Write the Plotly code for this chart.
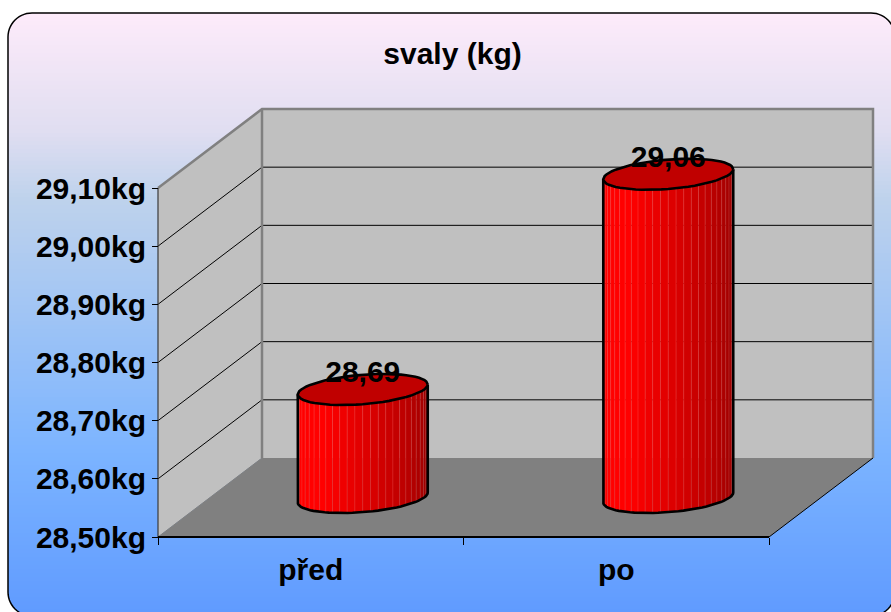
import math
import plotly.graph_objects as go

# ---- chart data ----
categories = ["před", "po"]
values = [28.69, 29.06]
value_labels = ["28,69", "29,06"]
y_ticks = [28.5, 28.6, 28.7, 28.8, 28.9, 29.0, 29.1]
y_tick_labels = ["28,50kg", "28,60kg", "28,70kg", "28,80kg", "28,90kg", "29,00kg", "29,10kg"]
title_text = "svaly (kg)"

W, H = 891, 612
FONT = "Liberation Sans, Arial, sans-serif"
FS = 30

# pixel scale of the axes (front plane)
PX_X = 305.5      # pixels per category
PX_Y = 581.67     # pixels per kg
L_PX, B_PX = 158, 537
DEPTH_X, DEPTH_Y = 104 / PX_X, 79 / PX_Y
y_min, y_max = y_ticks[0], y_ticks[-1]
n_cat = len(categories)
x_range = [-L_PX / PX_X, (W - L_PX) / PX_X]
y_range = [y_min - (H - B_PX) / PX_Y, y_min + B_PX / PX_Y]


def poly(xs, ys, fill=None, line=None, width=0, close=True):
    return go.Scatter(
        x=xs, y=ys, mode="lines" if width else "none",
        fill="toself" if fill else None, fillcolor=fill,
        line=dict(color=line or "rgba(0,0,0,0)", width=width),
        hoverinfo="skip", showlegend=False)


fig = go.Figure()

# side wall, back wall, floor
fig.add_trace(poly([0, DEPTH_X, DEPTH_X, 0, 0],
                   [y_min, y_min + DEPTH_Y, y_max + DEPTH_Y, y_max, y_min], "#C0C0C0"))
fig.add_trace(poly([DEPTH_X, n_cat + DEPTH_X, n_cat + DEPTH_X, DEPTH_X, DEPTH_X],
                   [y_min + DEPTH_Y, y_min + DEPTH_Y, y_max + DEPTH_Y, y_max + DEPTH_Y, y_min + DEPTH_Y],
                   "#C0C0C0"))
fig.add_trace(poly([0, n_cat, n_cat + DEPTH_X, DEPTH_X, 0],
                   [y_min, y_min, y_min + DEPTH_Y, y_min + DEPTH_Y, y_min], "#808080"))

# grid lines
for v in y_ticks[1:-1]:
    fig.add_trace(poly([0, DEPTH_X, n_cat + DEPTH_X], [v, v + DEPTH_Y, v + DEPTH_Y],
                       line="#000000", width=1))

# wall edges
GRAY = "#808080"
fig.add_trace(poly([0, DEPTH_X, n_cat + DEPTH_X, n_cat + DEPTH_X],
                   [y_max, y_max + DEPTH_Y, y_max + DEPTH_Y, y_min + DEPTH_Y],
                   line=GRAY, width=2.5))
fig.add_trace(poly([DEPTH_X, DEPTH_X], [y_max + DEPTH_Y, y_min + DEPTH_Y], line=GRAY, width=2.5))
fig.add_trace(poly([0, DEPTH_X], [y_min, y_min + DEPTH_Y], line=GRAY, width=1))
fig.add_trace(poly([0, 0], [y_max, y_min], line="#3a3a3a", width=1.2))
fig.add_trace(poly([0, n_cat], [y_min, y_min], line="#000000", width=2))
fig.add_trace(poly([n_cat, n_cat + DEPTH_X], [y_min, y_min + DEPTH_Y], line="#000000", width=1))

# cylinders
RX, RY, SHEAR = 65.0, 14.7, 5.0
N_STRIP = 26
BASE_UP, TOP_UP = 39.5, 37.0
STROKE = 2.6


def shade(t):
    # t = 0 (left) .. 1 (right)
    if t < 0.3:
        return (255, 0, 0)
    return (round(255 - (t - 0.3) / 0.7 * 110), 0, 0)


def arc(cx, v, up, t0, t1, n=6):
    xs, ys = [], []
    for i in range(n + 1):
        t = t0 + (t1 - t0) * i / n
        xs.append(cx + (RX * math.cos(t)) / PX_X)
        ys.append(v + (up + SHEAR * math.cos(t) + RY * math.sin(t)) / PX_Y)
    return xs, ys


for i, v in enumerate(values):
    cx = i + 0.5 + DEPTH_X / 2
    # body strips (front half of the cylinder, left to right)
    for s in range(N_STRIP):
        t0 = math.pi + math.pi * s / N_STRIP
        t1 = math.pi + math.pi * (s + 1) / N_STRIP
        bx, by = arc(cx, y_min, BASE_UP, t0, t1, 3)
        tx, ty = arc(cx, v, TOP_UP, t1, t0, 3)
        r, g, b = shade((s + 0.5) / N_STRIP)
        edge = f"rgba({min(255, r + 50)},90,90,0.4)"
        fig.add_trace(poly(bx + tx + bx[:1], by + ty + by[:1],
                           f"rgb({r},{g},{b})", edge, 0.6))
    # silhouette
    bx, by = arc(cx, y_min, BASE_UP, math.pi, 2 * math.pi, 40)
    lx = [cx - RX / PX_X] + bx + [cx + RX / PX_X]
    ly = [v + (TOP_UP - SHEAR) / PX_Y] + by + [v + (TOP_UP + SHEAR) / PX_Y]
    fig.add_trace(poly(lx, ly, line="#000000", width=STROKE))
    # top disc
    ex, ey = arc(cx, v, TOP_UP, 0, 2 * math.pi, 60)
    fig.add_trace(poly(ex, ey, "#C00000", "#000000", STROKE))

# value labels
fig.add_trace(go.Scatter(
    x=[i + 0.5 + DEPTH_X / 2 for i in range(n_cat)],
    y=[v + (TOP_UP + 14.5) / PX_Y for v in values],
    text=value_labels, mode="text", textposition="middle center",
    textfont=dict(family=FONT, size=FS, color="#000000", weight="bold"),
    hoverinfo="skip", showlegend=False))

# ---- card background (paper coordinates) ----
shapes = []
stops = [(13, (254, 235, 250)), (130, (224, 222, 241)), (200, (190, 210, 236)),
         (450, (124, 180, 255)), (612, (96, 155, 255))]


def grad(py):
    for (a, ca), (b, cb) in zip(stops, stops[1:]):
        if py <= b:
            f = max(0, (py - a) / (b - a))
            return tuple(round(ca[k] + (cb[k] - ca[k]) * f) for k in range(3))
    return stops[-1][1]


def fx(px):
    return px / W


def fy(py):
    return 1 - py / H


for py in range(13, 612, 4):
    c = grad(py + 2)
    shapes.append(dict(type="rect", xref="paper", yref="paper", layer="below",
                       x0=0, x1=1, y0=fy(py + 4.5), y1=fy(py),
                       fillcolor=f"rgb{c}", line=dict(width=0)))

# card outline and white corners
X0, Y0, X1, Y1, R = 8, 13, 895, 616, 24


def P(px, py):
    return f"{fx(px):.5f},{fy(py):.5f}"


def arc_pts(cxp, cyp, a0, a1, n=14):
    pts = []
    for i in range(n + 1):
        a = math.radians(a0 + (a1 - a0) * i / n)
        pts.append((cxp + R * math.cos(a), cyp + R * math.sin(a)))
    return pts


outline = (arc_pts(X0 + R, Y0 + R, 180, 270) + arc_pts(X1 - R, Y0 + R, 270, 360)
           + arc_pts(X1 - R, Y1 - R, 0, 90) + arc_pts(X0 + R, Y1 - R, 90, 180))
card = "M" + " L".join(P(a, b) for a, b in outline) + " Z"
mask = f"M{P(-5, -5)} L{P(W + 8, -5)} L{P(W + 8, H + 8)} L{P(-5, H + 8)} Z " + card
shapes.append(dict(type="path", xref="paper", yref="paper", layer="below", path=mask,
                   fillcolor="#FFFFFF", line=dict(width=0)))
shapes.append(dict(type="path", xref="paper", yref="paper", layer="below", path=card,
                   fillcolor="rgba(0,0,0,0)", line=dict(color="#000000", width=1.5)))

tick_font = dict(family=FONT, size=FS, color="#000000", weight="bold")
fig.update_layout(
    width=W, height=H, autosize=False,
    margin=dict(l=0, r=0, t=0, b=0),
    paper_bgcolor="#FFFFFF", plot_bgcolor="rgba(0,0,0,0)",
    showlegend=False, shapes=shapes, hovermode=False,
    title=dict(text=title_text, x=452.5 / W, xanchor="center", y=1 - 53 / H, yanchor="middle",
               font=tick_font),
    xaxis=dict(range=x_range, domain=[0, 1], anchor="free", position=(H - B_PX) / H,
               showgrid=False, zeroline=False, showline=False,
               tickmode="array", tickvals=[i + 0.5 for i in range(n_cat)], ticktext=categories,
               ticks="outside", ticklen=0, tickfont=tick_font, ticklabelstandoff=6,
               minor=dict(tickmode="array", tickvals=list(range(n_cat + 1)), ticks="outside",
                          ticklen=7, tickcolor="#000000", tickwidth=1, showgrid=False)),
    yaxis=dict(range=y_range, domain=[0, 1], anchor="free", position=L_PX / W,
               showgrid=False, zeroline=False, showline=False,
               tickmode="array", tickvals=y_ticks, ticktext=y_tick_labels,
               ticks="outside", ticklen=6, tickcolor="#000000", tickwidth=1, tickfont=tick_font),
)
fig.write_html("out.html", config={"displayModeBar": False},
               post_script="document.body.style.margin='0';document.documentElement.style.overflow='hidden';")
